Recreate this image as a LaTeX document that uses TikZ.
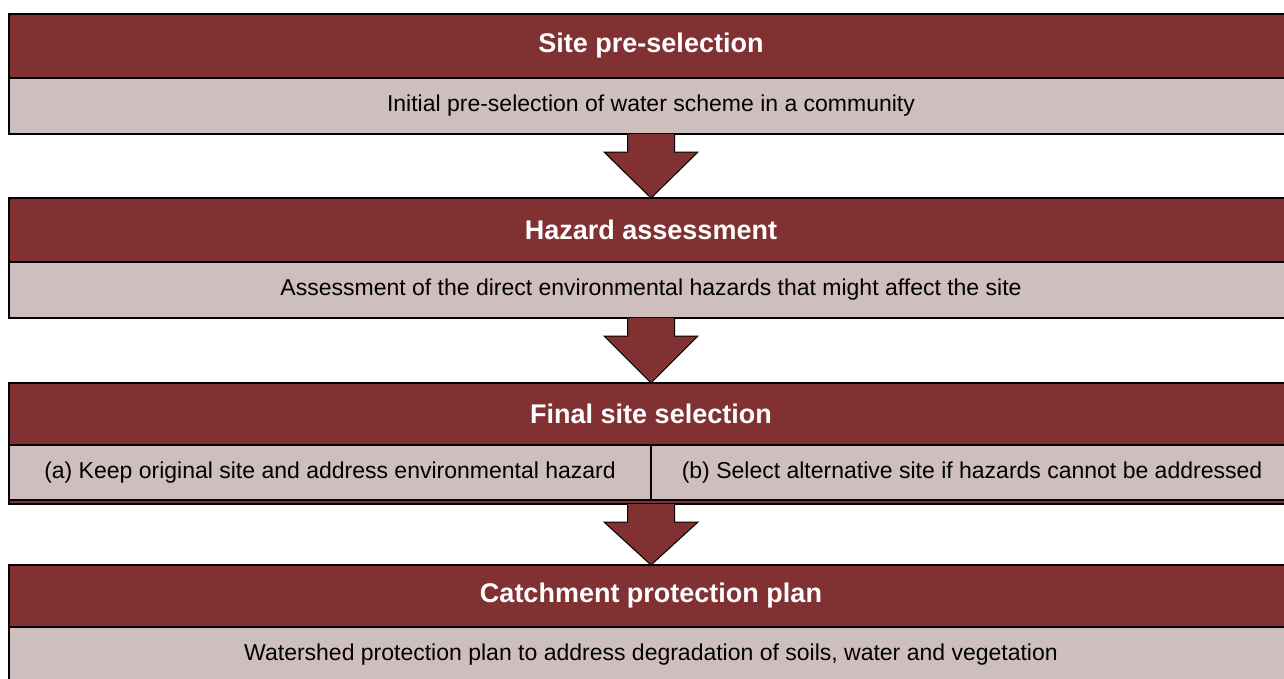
\documentclass[tikz,border=0pt]{standalone}
\usepackage{fontspec}
\setmainfont{Liberation Sans}
\usetikzlibrary{positioning,calc}
\definecolor{maroon}{RGB}{130,49,51}
\definecolor{rosegray}{RGB}{207,190,190}
\tikzset{
  header/.style={draw=black, line width=1.2pt, fill=maroon, text=white,
    font=\fontsize{27}{31}\selectfont\bfseries,
    minimum width=1284pt, minimum height=64pt, inner sep=0pt, outer sep=0pt},
  detail/.style={draw=black, line width=1.2pt, fill=rosegray,
    font=\fontsize{23}{27}\selectfont,
    minimum width=1284pt, minimum height=56pt, inner sep=0pt, outer sep=0pt},
  flowarrow/.style={draw=black, line width=1pt, fill=maroon, line join=miter},
}
% down arrow between two stages
\newcommand\stepdown[2]{%
  \draw[flowarrow] ($(#1.south)+(-23.5pt,0)$) -- ++(0,-18pt) -- ++(-23.5pt,0)
    -- (#2.north) -- ($(#1.south)+(47pt,-18pt)$) -- ++(-23.5pt,0) -- ++(0,18pt);}

\begin{document}
\begin{tikzpicture}[x=1pt, y=1pt]
  \useasboundingbox (0,0) rectangle (1284,-678);

  % stage 1
  \node[header] (head1) at (651,-46) {Site pre-selection};
  \node[detail, below=0pt of head1] (sub1) {Initial pre-selection of water scheme in a community};

  % stage 2
  \node[header, below=64pt of sub1] (head2) {Hazard assessment};
  \node[detail, below=0pt of head2] (sub2) {Assessment of the direct environmental hazards that might affect the site};

  % stage 3
  \node[header, minimum height=62pt, below=65pt of sub2] (head3) {Final site selection};
  \node[detail, minimum width=642pt, minimum height=55pt, anchor=north west]
    (sub3a) at (head3.south west) {(a) Keep original site and address environmental hazard};
  \node[detail, minimum width=642pt, minimum height=55pt, anchor=north west]
    (sub3b) at (sub3a.north east) {(b) Select alternative site if hazards cannot be addressed};
  \node[header, minimum height=4pt, anchor=north west] (strip3) at (sub3a.south west) {};

  % stage 4
  \node[header, minimum height=62pt, below=61pt of strip3] (head4) {Catchment protection plan};
  \node[detail, below=0pt of head4] (sub4) {Watershed protection plan to address degradation of soils, water and vegetation};

  \stepdown{sub1}{head2}
  \stepdown{sub2}{head3}
  \stepdown{strip3}{head4}
\end{tikzpicture}
\end{document}
